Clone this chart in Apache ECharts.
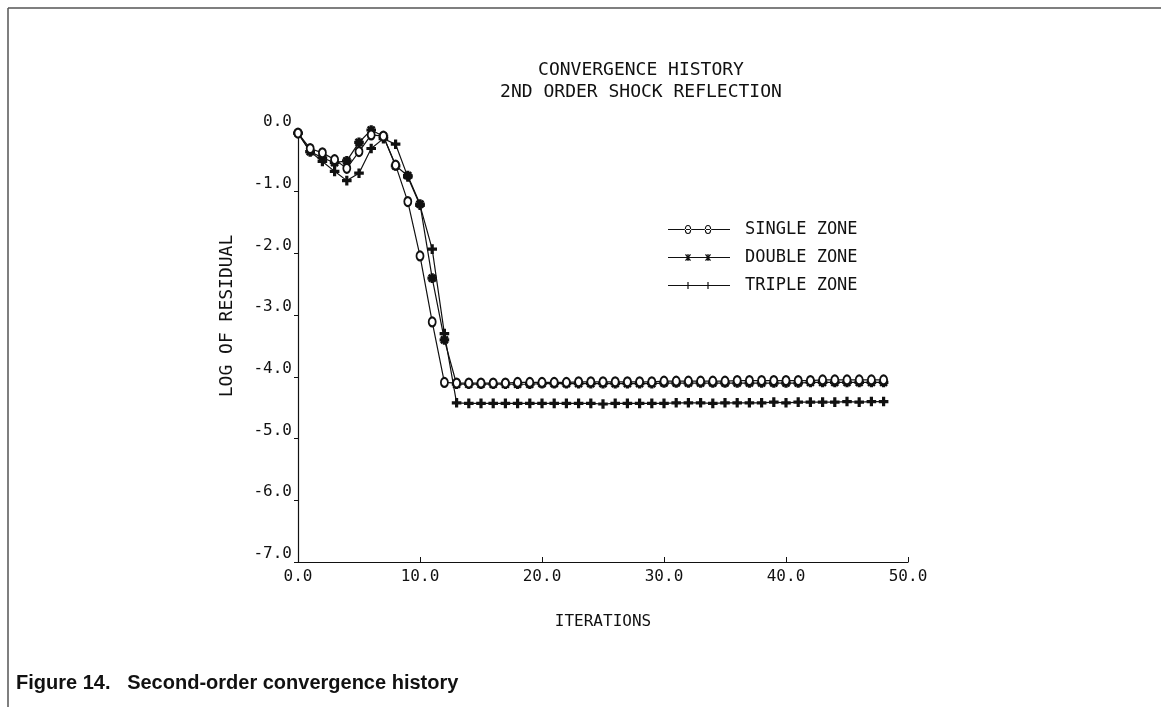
<!DOCTYPE html>
<html>
<head>
<meta charset="utf-8">
<script src="https://cdn.jsdelivr.net/npm/echarts@6/dist/echarts.min.js"></script>
<style>
  html, body { margin: 0; padding: 0; background: #fff; }
  #chart { width: 1161px; height: 707px; }
</style>
</head>
<body>
<div id="chart"></div>
<script>
// iteration numbers 0..48
const iterations = [
  0, 1, 2, 3, 4, 5, 6, 7, 8, 9, 10, 11, 12, 13, 14, 15, 16, 17, 18, 19,
  20, 21, 22, 23, 24, 25, 26, 27, 28, 29, 30, 31, 32, 33, 34, 35, 36, 37, 38, 39,
  40, 41, 42, 43, 44, 45, 46, 47, 48
];

// log of residual
const singleZone = [
  -0.05, -0.30, -0.37, -0.48, -0.62, -0.35, -0.08, -0.10, -0.57, -1.16,
  -2.04, -3.11, -4.09, -4.10, -4.10, -4.10, -4.10, -4.10, -4.09, -4.09,
  -4.09, -4.09, -4.09, -4.08, -4.08, -4.08, -4.08, -4.08, -4.08, -4.08,
  -4.07, -4.07, -4.07, -4.07, -4.07, -4.07, -4.06, -4.06, -4.06, -4.06,
  -4.06, -4.06, -4.06, -4.05, -4.05, -4.05, -4.05, -4.05, -4.05
];
const doubleZone = [
  -0.05, -0.35, -0.45, -0.53, -0.50, -0.20, 0.00, -0.10, -0.58, -0.74,
  -1.20, -2.40, -3.40, -4.12, -4.12, -4.12, -4.12, -4.12, -4.12, -4.12,
  -4.11, -4.11, -4.11, -4.11, -4.11, -4.11, -4.11, -4.11, -4.11, -4.11,
  -4.10, -4.10, -4.10, -4.10, -4.10, -4.10, -4.10, -4.10, -4.10, -4.10,
  -4.10, -4.10, -4.09, -4.09, -4.09, -4.09, -4.09, -4.09, -4.09
];
const tripleZone = [
  -0.05, -0.35, -0.51, -0.67, -0.82, -0.70, -0.30, -0.14, -0.23, -0.76,
  -1.22, -1.93, -3.30, -4.42, -4.43, -4.43, -4.43, -4.43, -4.43, -4.43,
  -4.43, -4.43, -4.43, -4.43, -4.43, -4.44, -4.43, -4.43, -4.43, -4.43,
  -4.43, -4.42, -4.42, -4.42, -4.43, -4.42, -4.42, -4.42, -4.42, -4.41,
  -4.42, -4.41, -4.41, -4.41, -4.41, -4.40, -4.41, -4.40, -4.40
];

const titleLines = ['CONVERGENCE HISTORY', '2ND ORDER SHOCK REFLECTION'];
const seriesNames = ['SINGLE ZONE', 'DOUBLE ZONE', 'TRIPLE ZONE'];
const caption = 'Figure 14.   Second-order convergence history';

const plotFont = '"DejaVu Sans Mono", monospace';
const ink = '#111';

// marker shapes like the plotter glyphs
const plusPath = 'path://M4,0H6V4H10V6H6V10H4V6H0V4H4Z';
const starPath = 'path://M4,0H6V3.3L8.3,1L9,1.7L6.7,4H10V6H6.7L9,8.3L8.3,9L6,6.7V10H4V6.7L1.7,9L1,8.3L3.3,6H0V4H3.3L1,1.7L1.7,1L4,3.3Z';

// legend keys: a short line with two markers on it
const keyBar = 'M0,4.6H62V5.4H0Z';
const keyRing = cx => `M${cx - 3.2},5A3.2,4.5 0 1,0 ${cx + 3.2},5A3.2,4.5 0 1,0 ${cx - 3.2},5Z` +
  `M${cx - 2.1},5A2.1,3.4 0 1,1 ${cx + 2.1},5A2.1,3.4 0 1,1 ${cx - 2.1},5Z`;
const keyPlus = cx => `M${cx - 0.6},1.5H${cx + 0.6}V4.4H${cx + 3.5}V5.6H${cx + 0.6}V8.5H${cx - 0.6}V5.6H${cx - 3.5}V4.4H${cx - 0.6}Z`;
const keyStar = cx => keyPlus(cx) +
  `M${cx - 3},2.3L${cx - 2},1.5L${cx + 3},7.7L${cx + 2},8.5Z` +
  `M${cx + 2},1.5L${cx + 3},2.3L${cx - 2},8.5L${cx - 3},7.7Z`;
const legendIcons = [
  'path://' + keyBar + keyRing(20) + keyRing(40),
  'path://' + keyBar + keyStar(20) + keyStar(40),
  'path://' + keyBar + keyPlus(20) + keyPlus(40)
];

const pairs = arr => arr.map((v, i) => [iterations[i], v]);

const chart = echarts.init(document.getElementById('chart'));

const lineSeries = (name, data, symbol, size) => ({
  name: name,
  type: 'line',
  data: pairs(data),
  symbol: symbol,
  symbolSize: size,
  showAllSymbol: true,
  lineStyle: { color: ink, width: 1.2 },
  itemStyle: { color: ink, borderColor: ink, borderWidth: 1.6 },
  emphasis: { disabled: true },
  animation: false
});

const option = {
  backgroundColor: '#fff',
  title: {
    text: titleLines.join('\n'),
    left: 636,
    top: 54,
    textAlign: 'center',
    textStyle: {
      fontFamily: plotFont,
      fontWeight: 'normal',
      fontSize: 18,
      lineHeight: 22,
      color: ink
    }
  },
  legend: {
    orient: 'vertical',
    left: 663,
    top: 216,
    itemWidth: 62,
    itemHeight: 9,
    itemGap: 11,
    data: seriesNames.map((n, i) => ({ name: n, icon: legendIcons[i] })),
    itemStyle: { color: ink, borderWidth: 0 },
    lineStyle: { width: 0 },
    textStyle: { fontFamily: plotFont, fontSize: 17, color: ink, padding: [0, 0, 0, 10] },
    selectedMode: false
  },
  grid: { left: 298, right: 253, top: 130, bottom: 145 },
  xAxis: {
    type: 'value',
    min: 0,
    max: 50,
    interval: 10,
    name: 'ITERATIONS',
    nameLocation: 'middle',
    nameGap: 52,
    nameTextStyle: { fontFamily: plotFont, fontSize: 16, color: ink },
    axisLine: { onZero: false, lineStyle: { color: ink, width: 1.2 } },
    axisTick: { inside: true, length: 5, lineStyle: { color: ink } },
    axisLabel: {
      color: ink,
      fontFamily: plotFont,
      fontSize: 16,
      margin: 7,
      formatter: v => v.toFixed(1)
    },
    splitLine: { show: false }
  },
  yAxis: {
    type: 'value',
    min: -7,
    max: 0,
    interval: 1,
    name: 'LOG OF RESIDUAL',
    nameLocation: 'middle',
    nameGap: 62,
    nameRotate: 90,
    nameTextStyle: { fontFamily: plotFont, fontSize: 18, color: ink, padding: [0, 0, 0, 60] },
    axisLine: { show: true, onZero: false, lineStyle: { color: ink, width: 1.2 } },
    axisTick: { show: true, length: 4, lineStyle: { color: ink } },
    axisLabel: {
      color: ink,
      fontFamily: plotFont,
      fontSize: 16,
      margin: 6,
      verticalAlign: 'bottom',
      formatter: v => v.toFixed(1)
    },
    splitLine: { show: false }
  },
  series: [
    lineSeries(seriesNames[2], tripleZone, plusPath, 8),
    lineSeries(seriesNames[1], doubleZone, starPath, 8),
    lineSeries(seriesNames[0], singleZone, 'emptyCircle', [7, 9])
  ],
  graphic: [
    {
      type: 'line',
      shape: { x1: 8, y1: 8, x2: 1161, y2: 8 },
      style: { stroke: '#555', lineWidth: 1.5 }
    },
    {
      type: 'line',
      shape: { x1: 8, y1: 8, x2: 8, y2: 707 },
      style: { stroke: '#555', lineWidth: 1.5 }
    },
    {
      type: 'text',
      left: 16,
      top: 673,
      style: {
        text: caption,
        font: 'bold 20px "Liberation Sans", Arial, sans-serif',
        fill: '#111'
      }
    }
  ]
};

chart.setOption(option);
window.addEventListener('resize', () => chart.resize());
</script>
</body>
</html>
